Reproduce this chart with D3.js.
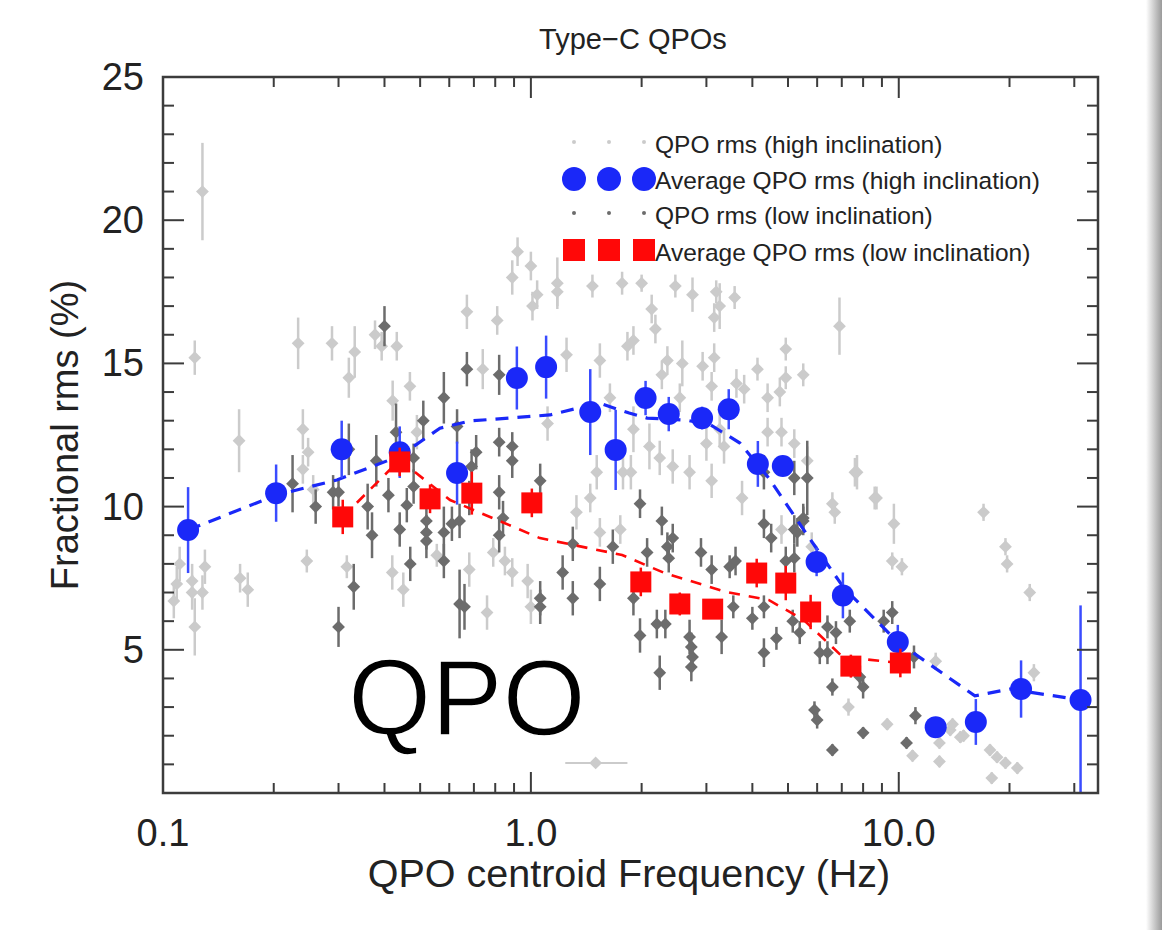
<!DOCTYPE html>
<html lang="en">
<head>
  <meta charset="UTF-8">
  <title>Type-C QPOs</title>
  <style>
    body { margin: 0; background: #fff; }
    text { font-family: "Liberation Sans", Arial, sans-serif; }
  </style>
</head>
<body>
  <div class="canvas"></div>

  <script src="https://cdnjs.cloudflare.com/ajax/libs/d3/7.8.5/d3.min.js"></script>
  <script>
// individual QPOs, high inclination: [freq Hz, rms %, err]
const hiQpo = [
  [0.128, 21.0, 1.7], [0.122, 15.2, 0.6], [0.161, 12.3, 1.1], [0.233, 15.7, 0.9],
  [0.288, 15.7, 0.6], [0.332, 15.4, 0.9], [0.320, 14.5, 0.7], [0.377, 16.0, 0.5],
  [0.393, 15.6, 0.5], [0.432, 15.6, 0.5], [0.469, 14.2, 0.5], [0.421, 13.7, 0.7],
  [0.24, 12.7, 0.7], [0.248, 11.9, 0.5], [0.24, 11.3, 0.5], [0.256, 10.6, 0.5],
  [0.49, 12.6, 0.6], [0.67, 16.8, 0.6], [0.74, 14.8, 0.7], [0.81, 16.5, 0.5],
  [0.92, 18.9, 0.5], [0.89, 18.0, 0.6], [1.0, 18.4, 0.5], [1.04, 17.4, 0.5],
  [1.01, 17.0, 0.5], [1.18, 17.8, 0.9], [1.18, 17.5, 0.5], [1.47, 17.7, 0.4],
  [1.77, 17.8, 0.4], [2.0, 17.8, 0.3], [1.25, 15.3, 0.6], [1.54, 15.1, 0.6],
  [1.64, 13.8, 0.5], [1.11, 12.9, 0.6], [1.83, 15.6, 0.5], [1.51, 11.2, 0.6],
  [1.45, 10.3, 0.5], [1.33, 9.8, 0.6], [1.78, 11.2, 0.6], [2.47, 17.7, 0.4],
  [2.75, 17.4, 0.6], [3.19, 17.5, 0.4], [3.58, 17.3, 0.4], [3.26, 17.0, 0.8],
  [3.15, 16.6, 0.5], [2.13, 16.9, 0.5], [2.18, 16.2, 0.5], [1.9, 15.8, 0.5],
  [6.9, 16.3, 1.0], [4.93, 15.5, 0.4], [2.35, 15.1, 0.5], [2.58, 15.0, 0.8],
  [2.93, 14.9, 0.5], [3.15, 15.2, 0.5], [2.27, 14.6, 0.5], [4.13, 14.8, 0.4],
  [4.93, 14.5, 0.4], [5.5, 14.6, 0.4], [3.62, 14.3, 0.5], [3.8, 14.1, 0.5],
  [3.1, 14.2, 0.5], [4.4, 13.8, 0.5], [4.75, 14.0, 0.5], [2.54, 13.8, 0.5],
  [1.9, 12.7, 0.8], [2.1, 12.1, 0.8], [2.24, 11.7, 0.6], [2.43, 11.4, 0.6],
  [2.7, 11.2, 0.6], [3.0, 12.2, 0.6], [3.26, 12.7, 0.6], [3.1, 10.9, 0.6],
  [3.35, 12.1, 0.6], [3.75, 10.3, 0.6], [4.4, 12.6, 0.5], [4.8, 12.6, 0.5],
  [5.2, 12.2, 0.5], [5.64, 11.6, 0.5], [6.6, 10.1, 0.4], [6.7, 9.8, 0.4],
  [7.7, 11.2, 0.6], [8.6, 10.3, 0.4], [17.0, 9.8, 0.3], [9.7, 9.4, 0.7],
  [1.87, 11.2, 0.6], [0.111, 8.0, 0.6], [0.109, 7.3, 0.6], [0.107, 6.7, 0.6],
  [0.12, 7.0, 0.6], [0.128, 7.0, 0.6], [0.12, 7.4, 0.6], [0.13, 7.9, 0.6],
  [0.122, 5.8, 1.0], [0.162, 7.5, 0.5], [0.17, 7.1, 0.6], [0.246, 8.1, 0.4],
  [0.316, 7.9, 0.4], [0.42, 7.7, 0.6], [0.45, 7.1, 0.6], [0.555, 8.3, 0.4],
  [0.68, 7.8, 0.6], [0.76, 6.3, 0.6], [0.79, 8.4, 0.5], [0.85, 8.1, 0.5],
  [0.89, 7.7, 0.5], [0.98, 7.4, 0.6], [1.0, 6.5, 0.6], [1.54, 9.1, 0.5],
  [1.75, 9.2, 0.5], [9.6, 8.1, 0.3], [10.2, 7.9, 0.3], [19.5, 8.6, 0.3],
  [19.7, 8.0, 0.3], [22.7, 7.0, 0.3], [23.3, 4.2, 0.3], [12.6, 4.6, 0.3],
  [7.3, 3.0, 0.3], [9.3, 2.4, 0.2], [10.9, 1.3, 0.2], [12.9, 1.1, 0.2],
  [12.9, 1.75, 0.2], [13.8, 2.2, 0.2], [14.7, 1.95, 0.2], [17.7, 1.5, 0.2],
  [18.5, 1.25, 0.2], [19.5, 1.05, 0.2], [21.0, 0.87, 0.2], [17.9, 0.52, 0.2],
  [4.8, 9.2, 0.5], [5.8, 8.6, 0.5], [7.6, 11.2, 0.5], [8.7, 10.3, 0.4],
  [14.0, 2.4, 0.2], [15.0, 2.0, 0.2]
];
// one high inclination QPO with a frequency range: [freq, rms, fLow, fHigh]
const hiWide = [[1.5, 1.05, 1.24, 1.83]];

// individual QPOs, low inclination: [freq Hz, rms %, err]
const loQpo = [
  [0.40, 16.3, 0.7], [0.67, 14.8, 0.6], [0.82, 14.6, 0.7], [0.58, 13.8, 0.9],
  [0.51, 13.0, 0.7], [0.43, 12.6, 1.0], [0.63, 12.8, 0.6], [0.32, 12.0, 0.9],
  [0.38, 11.6, 0.9], [0.48, 11.7, 0.5], [0.71, 11.9, 0.6], [0.82, 12.25, 0.5],
  [0.89, 12.1, 0.5], [0.89, 11.6, 0.6], [0.69, 11.4, 0.6], [0.225, 10.8, 1.0],
  [0.29, 10.5, 0.6], [0.26, 10.0, 0.6], [0.36, 10.0, 0.8], [0.46, 10.05, 0.6],
  [0.48, 10.7, 0.6], [0.82, 10.5, 0.6], [1.06, 10.9, 0.6], [1.98, 10.1, 0.5],
  [5.2, 11.0, 0.6], [5.64, 11.0, 1.3], [4.3, 11.2, 0.6], [0.37, 9.0, 0.8],
  [0.44, 9.2, 0.6], [0.52, 9.1, 0.6], [0.58, 9.1, 0.9], [0.61, 9.4, 0.6],
  [0.64, 9.5, 0.6], [0.52, 9.5, 0.6], [0.47, 8.0, 0.6], [0.58, 8.1, 0.6],
  [0.33, 7.2, 0.8], [0.30, 5.8, 0.7], [0.64, 6.6, 1.2], [0.66, 6.5, 0.8],
  [1.06, 6.8, 0.6], [0.84, 9.6, 0.6], [1.3, 8.7, 0.6], [1.22, 7.7, 0.6],
  [1.3, 6.8, 0.6], [1.54, 7.3, 0.6], [1.67, 8.6, 0.6], [2.27, 9.5, 0.5],
  [2.07, 8.4, 0.5], [2.43, 8.9, 0.5], [2.35, 8.6, 0.5], [2.37, 8.2, 0.5],
  [2.9, 8.4, 0.5], [3.1, 7.8, 0.5], [3.6, 8.1, 0.5], [3.47, 7.9, 0.4],
  [4.3, 9.4, 0.5], [4.5, 8.9, 0.5], [5.2, 9.2, 0.5], [5.5, 9.5, 0.5],
  [4.93, 8.1, 0.5], [5.2, 8.2, 0.5], [3.55, 6.5, 0.4], [4.0, 6.1, 0.4],
  [4.3, 6.5, 0.4], [5.15, 6.0, 0.4], [5.38, 5.6, 0.4], [6.4, 5.8, 0.4],
  [6.75, 5.6, 0.4], [6.1, 4.9, 0.4], [4.65, 5.4, 0.4], [4.3, 4.9, 0.5],
  [3.3, 5.45, 0.6], [2.7, 5.45, 0.6], [2.73, 5.1, 0.5], [2.75, 4.75, 0.5],
  [2.73, 4.4, 0.5], [2.2, 5.9, 0.5], [2.32, 5.9, 0.5], [1.98, 5.5, 0.6],
  [2.24, 4.2, 0.6], [1.9, 6.8, 0.6], [7.84, 4.05, 0.4], [8.0, 3.7, 0.4],
  [6.6, 3.7, 0.3], [5.9, 2.9, 0.3], [6.0, 2.55, 0.3], [8.0, 2.1, 0.2],
  [6.6, 1.5, 0.2], [10.5, 1.75, 0.2], [11.1, 2.7, 0.3], [9.1, 6.0, 0.4],
  [9.6, 6.3, 0.4], [11.0, 4.75, 0.4], [7.36, 6.0, 0.4], [6.4, 4.9, 0.4],
  [5.5, 9.6, 0.5], [5.3, 9.1, 0.5], [0.30, 10.5, 0.5], [0.41, 10.4, 0.6],
  [0.52, 8.8, 0.6], [0.68, 10.3, 0.6], [0.82, 9.0, 0.6], [1.06, 6.5, 0.6]
];

// averages, high inclination
const hiAvgF = [0.117, 0.203, 0.306, 0.44, 0.63, 0.916, 1.10, 1.45, 1.70, 2.05, 2.37,
                2.92, 3.45, 4.14, 4.84, 5.98, 7.05, 9.94, 12.6, 16.2, 21.5, 31.2];
const hiAvgR = [9.18, 10.47, 12.0, 11.9, 11.17, 14.49, 14.87, 13.3, 11.98, 13.79, 13.23,
                13.09, 13.4, 11.49, 11.42, 8.07, 6.9, 5.27, 2.3, 2.48, 3.63, 3.25];
const hiAvgE = [1.5, 1.0, 1.0, 0.9, 1.1, 1.1, 1.1, 1.5, 1.4, 0.6, 0.6,
                0.4, 0.7, 0.8, 0.3, 0.5, 0.8, 0.6, 0.0, 0.8, 1.0, 3.3];

// averages, low inclination
const loAvgF = [0.308, 0.44, 0.532, 0.691, 1.006, 1.99, 2.54, 3.12, 4.11, 4.93, 5.76, 7.41, 10.1];
const loAvgR = [9.64, 11.56, 10.27, 10.47, 10.13, 7.37, 6.6, 6.42, 7.68, 7.33, 6.32, 4.43, 4.54];
const loAvgE = [0.6, 0.5, 0.5, 0.75, 0.5, 0.5, 0.4, 0.3, 0.5, 0.6, 0.6, 0.4, 0.5];

// smoothed trend lines (dashed)
const hiLineF = [0.117, 0.203, 0.297, 0.441, 0.566, 0.683, 1.127, 1.53, 1.71, 1.85, 2.07,
                 2.64, 3.08, 3.70, 4.43, 5.59, 7.09, 9.94, 16.1, 20.0, 31.2];
const hiLineR = [9.18, 10.4, 10.93, 11.77, 12.74, 12.99, 13.2, 13.62, 13.41, 13.27, 13.09,
                 13.02, 12.85, 12.22, 11.0, 9.08, 7.16, 5.27, 3.39, 3.63, 3.25];
const loLineF = [0.308, 0.44, 0.603, 1.058, 1.77, 2.31, 3.39, 4.43, 5.52, 7.04, 10.1];
const loLineR = [9.64, 11.63, 10.23, 8.9, 8.31, 7.68, 7.02, 6.74, 6.04, 4.75, 4.54];

const xMajor = [0.1, 1, 10];
const xMajorLabels = ['0.1', '1.0', '10.0'];
const xMinor = [0.2, 0.3, 0.4, 0.5, 0.6, 0.7, 0.8, 0.9, 2, 3, 4, 5, 6, 7, 8, 9, 20, 30];
const yMajor = [5, 10, 15, 20, 25];

const legendLabels = ['QPO rms (high inclination)', 'Average QPO rms (high inclination)',
                      'QPO rms (low inclination)', 'Average QPO rms (low inclination)'];

const W = 1162, H = 930;
const m = { left: 163, right: 1098, top: 77, bottom: 793 };

const lightGrey = '#cbcbcb', darkGrey = '#6c6c6c';
const blue = '#1a28f8', red = '#ff0808';

const svg = d3.select('.canvas').append('svg')
  .attr('width', W)
  .attr('height', H);

svg.append('rect').attr('width', W).attr('height', H).attr('fill', '#fff');

// soft page shadow at right edge
const grad = svg.append('defs').append('linearGradient').attr('id', 'shade');
grad.append('stop').attr('offset', '0%').attr('stop-color', '#fff');
grad.append('stop').attr('offset', '100%').attr('stop-color', '#9a9a9a');
svg.append('rect').attr('x', 1146).attr('y', 0).attr('width', 16).attr('height', H)
  .attr('fill', 'url(#shade)');

const x = d3.scaleLog().domain([0.1, 34.8]).range([m.left, m.right]);
const y = d3.scaleLinear().domain([0, 25]).range([m.bottom, m.top]);

const plot = svg.append('g');

// clip for bars running past the axis
svg.append('clipPath').attr('id', 'clip').append('rect')
  .attr('x', m.left).attr('y', m.top)
  .attr('width', m.right - m.left).attr('height', m.bottom - m.top);
const data = plot.append('g').attr('clip-path', 'url(#clip)');

const diamond = d3.symbol().type(d3.symbolDiamond2).size(105);

function scatter(rows, colour) {
  const g = data.append('g');
  g.selectAll('line').data(rows).join('line')
    .attr('x1', d => x(d[0])).attr('x2', d => x(d[0]))
    .attr('y1', d => y(d[1] - d[2])).attr('y2', d => y(d[1] + d[2]))
    .attr('stroke', colour).attr('stroke-width', 2.5);
  g.selectAll('path').data(rows).join('path')
    .attr('d', diamond)
    .attr('transform', d => `translate(${x(d[0])},${y(d[1])})`)
    .attr('fill', colour);
}

scatter(hiQpo, lightGrey);
data.selectAll('.wide').data(hiWide).join('line')
  .attr('x1', d => x(d[2])).attr('x2', d => x(d[3]))
  .attr('y1', d => y(d[1])).attr('y2', d => y(d[1]))
  .attr('stroke', lightGrey).attr('stroke-width', 2);
data.selectAll('.widept').data(hiWide).join('path')
  .attr('d', diamond)
  .attr('transform', d => `translate(${x(d[0])},${y(d[1])})`)
  .attr('fill', lightGrey);
scatter(loQpo, darkGrey);

// dashed trend lines
const line = d3.line().x(d => x(d[0])).y(d => y(d[1]));
data.append('path')
  .datum(hiLineF.map((f, i) => [f, hiLineR[i]]))
  .attr('d', line).attr('fill', 'none')
  .attr('stroke', blue).attr('stroke-width', 3.2).attr('stroke-dasharray', '13,9');
data.append('path')
  .datum(loLineF.map((f, i) => [f, loLineR[i]]))
  .attr('d', line).attr('fill', 'none')
  .attr('stroke', red).attr('stroke-width', 2.6).attr('stroke-dasharray', '11,9');

// averages
const hiAvg = hiAvgF.map((f, i) => [f, hiAvgR[i], hiAvgE[i]]);
const loAvg = loAvgF.map((f, i) => [f, loAvgR[i], loAvgE[i]]);

data.selectAll('.hierr').data(hiAvg).join('line')
  .attr('x1', d => x(d[0])).attr('x2', d => x(d[0]))
  .attr('y1', d => y(d[1] - d[2])).attr('y2', d => y(d[1] + d[2]))
  .attr('stroke', '#3a4cff').attr('stroke-width', 2.5);
data.selectAll('.hipt').data(hiAvg).join('circle')
  .attr('cx', d => x(d[0])).attr('cy', d => y(d[1])).attr('r', 11)
  .attr('fill', blue);

data.selectAll('.loerr').data(loAvg).join('line')
  .attr('x1', d => x(d[0])).attr('x2', d => x(d[0]))
  .attr('y1', d => y(d[1] - d[2])).attr('y2', d => y(d[1] + d[2]))
  .attr('stroke', red).attr('stroke-width', 2.5);
data.selectAll('.lopt').data(loAvg).join('rect')
  .attr('x', d => x(d[0]) - 10.5).attr('y', d => y(d[1]) - 10.5)
  .attr('width', 21).attr('height', 21)
  .attr('fill', red);

// frame and ticks (IDL style, inward, all four sides)
const axisCol = '#3c3c3c';
const axes = svg.append('g');
axes.append('rect')
  .attr('x', m.left).attr('y', m.top)
  .attr('width', m.right - m.left).attr('height', m.bottom - m.top)
  .attr('fill', 'none').attr('stroke', axisCol).attr('stroke-width', 2.5);

function xTicks(vals, len) {
  axes.append('g').selectAll('line').data(vals).join('line')
    .attr('x1', d => x(d)).attr('x2', d => x(d))
    .attr('y1', m.bottom).attr('y2', m.bottom - len)
    .attr('stroke', axisCol).attr('stroke-width', 2);
  axes.append('g').selectAll('line').data(vals).join('line')
    .attr('x1', d => x(d)).attr('x2', d => x(d))
    .attr('y1', m.top).attr('y2', m.top + len)
    .attr('stroke', axisCol).attr('stroke-width', 2);
}
function yTicks(vals, len) {
  axes.append('g').selectAll('line').data(vals).join('line')
    .attr('x1', m.left).attr('x2', m.left + len)
    .attr('y1', d => y(d)).attr('y2', d => y(d))
    .attr('stroke', axisCol).attr('stroke-width', 2);
  axes.append('g').selectAll('line').data(vals).join('line')
    .attr('x1', m.right).attr('x2', m.right - len)
    .attr('y1', d => y(d)).attr('y2', d => y(d))
    .attr('stroke', axisCol).attr('stroke-width', 2);
}
xTicks(xMajor, 21);
xTicks(xMinor, 10);
yTicks(yMajor, 21);
yTicks(d3.range(1, 25).filter(v => v % 5 !== 0), 11);

// tick labels
axes.append('g').selectAll('text').data(xMajor).join('text')
  .attr('x', d => x(d)).attr('y', 846)
  .attr('text-anchor', 'middle')
  .attr('font-size', 38).attr('fill', '#222')
  .text((d, i) => xMajorLabels[i]);
axes.append('g').selectAll('text').data(yMajor).join('text')
  .attr('x', 144).attr('y', d => y(d) + 13)
  .attr('text-anchor', 'end')
  .attr('font-size', 38).attr('fill', '#222')
  .text(d => d);

// titles
svg.append('text')
  .attr('x', 633).attr('y', 49)
  .attr('text-anchor', 'middle')
  .attr('font-size', 29).attr('fill', '#222')
  .text('Type\u2212C QPOs');
svg.append('text')
  .attr('x', 629).attr('y', 887)
  .attr('text-anchor', 'middle')
  .attr('font-size', 39.5).attr('fill', '#222')
  .text('QPO centroid Frequency (Hz)');
svg.append('text')
  .attr('transform', 'translate(78, 435) rotate(-90)')
  .attr('text-anchor', 'middle')
  .attr('font-size', 38).attr('fill', '#222')
  .text('Fractional rms (%)');

// legend
const legend = svg.append('g');
const legX = [574, 609, 644];
const legY = [145, 181, 216, 253];
legend.selectAll('.l0').data(legX).join('circle')
  .attr('cx', d => d).attr('cy', legY[0] - 3).attr('r', 2).attr('fill', lightGrey);
legend.selectAll('.l1').data(legX).join('circle')
  .attr('cx', d => d).attr('cy', legY[1] - 2).attr('r', 12).attr('fill', blue);
legend.selectAll('.l2').data(legX).join('circle')
  .attr('cx', d => d).attr('cy', legY[2] - 3).attr('r', 2).attr('fill', darkGrey);
legend.selectAll('.l3').data(legX).join('rect')
  .attr('x', d => d - 11).attr('y', legY[3] - 14).attr('width', 22).attr('height', 22)
  .attr('fill', red);
legend.selectAll('text').data(legendLabels).join('text')
  .attr('x', 655).attr('y', (d, i) => legY[i] + 8)
  .attr('font-size', 24.5).attr('fill', '#222')
  .text(d => d);

// big overlay word
svg.append('text')
  .attr('x', 348).attr('y', 735)
  .attr('font-size', 107).attr('fill', '#000')
  .attr('stroke', '#fff').attr('stroke-width', 1.6)
  .text('QPO');
  </script>
</body>
</html>
